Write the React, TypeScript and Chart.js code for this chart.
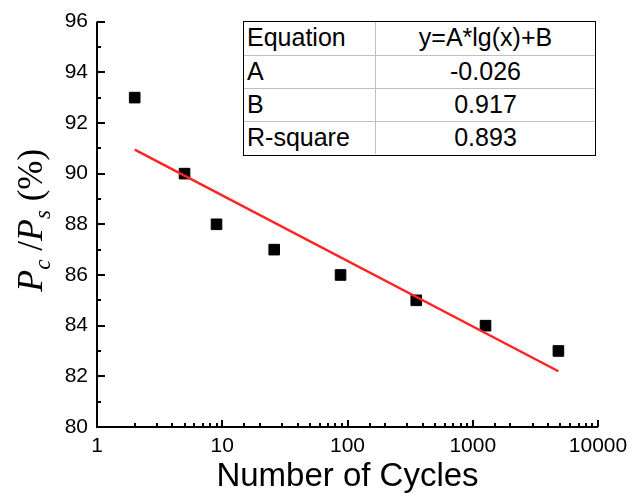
import React, { useEffect, useRef } from "react";
import { Chart, registerables } from "chart.js";

Chart.register(...registerables);

// ---- data ----
const cycles = [2, 5, 9, 26, 88, 354, 1265, 4830];
const ratio = [93, 90, 88, 87, 86, 85, 84, 83];
const fitX = [2, 4830];
const fitY = [90.95, 82.2];
const xTickMin = 1;
const xTickMax = 10000;
const yTickMin = 80;
const yTickMax = 96;
const tableLabels = ["Equation", "A", "B", "R-square"];
const tableValues = ["y=A*lg(x)+B", "-0.026", "0.917", "0.893"];

const SANS = '"Liberation Sans", Arial, sans-serif';
const SERIF = '"Liberation Serif", "Times New Roman", serif';

const isDecade = (v: number) => {
  const l = Math.log10(v);
  return Math.abs(l - Math.round(l)) < 1e-6;
};

const axesPlugin = {
  id: "originAxes",
  beforeDatasetsDraw(chart: any) {
    const { ctx, chartArea } = chart;
    const xs = chart.scales.x;
    const ys = chart.scales.y;
    ctx.save();
    ctx.strokeStyle = "#000";
    ctx.lineWidth = 2;
    ctx.lineCap = "butt";
    ctx.beginPath();
    ctx.moveTo(chartArea.left, chartArea.top);
    ctx.lineTo(chartArea.left, chartArea.bottom + 1);
    ctx.moveTo(chartArea.left - 1, chartArea.bottom);
    ctx.lineTo(chartArea.right, chartArea.bottom);
    ctx.stroke();
    ctx.beginPath();
    for (const t of xs.ticks) {
      const px = Math.round(xs.getPixelForValue(t.value));
      const len = isDecade(t.value) ? 7 : 4;
      ctx.moveTo(px, chartArea.bottom);
      ctx.lineTo(px, chartArea.bottom - len);
    }
    for (const t of ys.ticks) {
      const py = Math.round(ys.getPixelForValue(t.value));
      const len = t.value % 2 === 0 ? 8 : 4;
      ctx.moveTo(chartArea.left, py);
      ctx.lineTo(chartArea.left + len, py);
    }
    ctx.stroke();
    ctx.restore();
  },
  afterDraw(chart: any) {
    const { ctx, chartArea } = chart;
    const runs = [
      { t: "P", f: `italic 36px ${SERIF}`, dy: 0 },
      { t: "c", f: `italic 23px ${SERIF}`, dy: 8 },
      { t: " /", f: `35px ${SERIF}`, dy: 0 },
      { t: "P", f: `italic 36px ${SERIF}`, dy: 0 },
      { t: "s", f: `italic 23px ${SERIF}`, dy: 8 },
      { t: " (%)", f: `35px ${SERIF}`, dy: 0 },
    ];
    ctx.save();
    let total = 0;
    const widths = runs.map((r) => {
      ctx.font = r.f;
      const w = ctx.measureText(r.t).width;
      total += w;
      return w;
    });
    ctx.translate(42, (chartArea.top + chartArea.bottom) / 2 - 4);
    ctx.rotate(-Math.PI / 2);
    ctx.fillStyle = "#000";
    ctx.textBaseline = "alphabetic";
    ctx.textAlign = "left";
    let x = -total / 2;
    runs.forEach((r, i) => {
      ctx.font = r.f;
      ctx.fillText(r.t, x, r.dy);
      x += widths[i];
    });
    ctx.restore();
  },
};

function ChartCanvas() {
  const ref = useRef<HTMLCanvasElement | null>(null);
  useEffect(() => {
    if (!ref.current) return;
    const chart = new Chart(ref.current, {
      type: "scatter",
      data: {
        datasets: [
          {
            type: "line",
            label: "fit",
            data: fitX.map((x, i) => ({ x, y: fitY[i] })),
            borderColor: "#ff2424",
            borderWidth: 2.5,
            pointRadius: 0,
            fill: false,
            order: 0,
          } as any,
          {
            label: "data",
            data: cycles.map((x, i) => ({ x, y: ratio[i] })),
            pointStyle: "rect",
            pointRadius: 7.5,
            pointBackgroundColor: "#000",
            pointBorderColor: "#000",
            pointBorderWidth: 1,
            order: 1,
          },
        ],
      },
      options: {
        animation: false,
        responsive: false,
        layout: { padding: { left: 0, top: 21, right: 45, bottom: 0 } },
        plugins: {
          legend: { display: false },
          tooltip: { enabled: false },
        },
        scales: {
          x: {
            type: "logarithmic",
            min: xTickMin,
            max: xTickMax,
            grid: { display: false, drawTicks: false, tickLength: 0 },
            border: { display: false },
            ticks: {
              autoSkip: false,
              maxRotation: 0,
              padding: 7,
              color: "#000",
              font: { family: SANS, size: 21 },
              callback: (v: any) => (isDecade(Number(v)) ? String(Number(v)) : ""),
            },
            title: {
              display: true,
              text: "Number of Cycles",
              color: "#000",
              font: { family: SANS, size: 33 },
              padding: { top: 0, bottom: 0 },
            },
            afterFit: (s: any) => {
              s.height = 70;
            },
          },
          y: {
            min: yTickMin,
            max: yTickMax,
            grid: { display: false, drawTicks: false, tickLength: 0 },
            border: { display: false },
            ticks: {
              stepSize: 1,
              autoSkip: false,
              padding: 9,
              color: "#000",
              font: { family: SANS, size: 21 },
              callback: (v: any) => (Number(v) % 2 === 0 ? String(v) : ""),
            },
            afterFit: (s: any) => {
              s.width = 97;
            },
          },
        },
      } as any,
      plugins: [axesPlugin],
    });
    return () => chart.destroy();
  }, []);
  return <canvas ref={ref} width={643} height={497} style={{ display: "block" }} />;
}

export default function App() {
  const rowH = (135 - 3) / 4;
  return (
    <div style={{ position: "absolute", left: 0, top: 0, width: 643, height: 497, background: "#fff" }}>
      <ChartCanvas />
      <div
        style={{
          position: "absolute",
          left: 243,
          top: 21,
          width: 353,
          height: 135,
          border: "1.5px solid #000",
          boxSizing: "border-box",
          background: "#fff",
          fontFamily: SANS,
          fontSize: 25,
          color: "#000",
        }}
      >
        {tableLabels.map((lab, i) => (
          <div
            key={lab}
            style={{
              display: "flex",
              height: rowH,
              borderTop: i ? "1px solid #c0c0c0" : "none",
              boxSizing: "border-box",
            }}
          >
            <div
              style={{
                width: 132,
                borderRight: "1px solid #c0c0c0",
                paddingLeft: 3,
                display: "flex",
                alignItems: "center",
                boxSizing: "border-box",
                paddingBottom: 2,
              }}
            >
              {lab}
            </div>
            <div
              style={{
                flex: 1,
                display: "flex",
                alignItems: "center",
                justifyContent: "center",
                paddingBottom: 2,
              }}
            >
              {tableValues[i]}
            </div>
          </div>
        ))}
      </div>
    </div>
  );
}
